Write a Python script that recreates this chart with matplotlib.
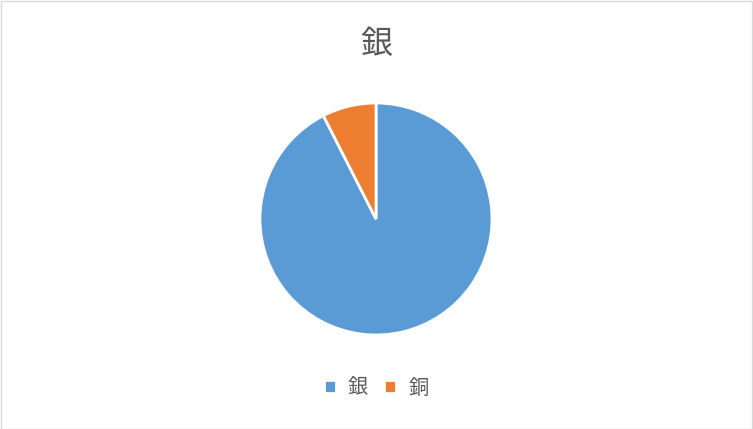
import matplotlib.pyplot as plt
from matplotlib.patches import Rectangle

plt.rcParams['font.family'] = ['Noto Sans CJK JP', 'DejaVu Sans']

labels = ["銀", "銅"]
values = [92.5, 7.5]
colors = ["#5B9BD5", "#ED7D31"]
title = "銀"

fig = plt.figure(figsize=(7.53, 4.29), dpi=100)
fig.patches.append(Rectangle((0.001, 0.001), 0.998, 0.997, transform=fig.transFigure,
                             fill=False, edgecolor="#D9D9D9", linewidth=1))

# pie centred at (376, 219) px, radius 116 px
ax = fig.add_axes([260 / 753, 94 / 429, 232 / 753, 232 / 429])
wedges, _ = ax.pie(values, colors=colors, startangle=90, counterclock=False,
                   wedgeprops=dict(edgecolor="white", linewidth=2))
ax.set_xlim(-1, 1)
ax.set_ylim(-1, 1)
ax.set_aspect("equal")

fig.text(376 / 753, 1 - 44 / 429, title, ha="center", va="center",
         fontsize=23, color="#595959")

fig.legend(wedges, labels, loc="center", bbox_to_anchor=(376 / 753, 1 - 388 / 429),
           ncol=2, frameon=False, fontsize=14.5, labelcolor="#595959",
           handlelength=0.6, handleheight=0.6, handletextpad=0.6, columnspacing=0.8)

fig.savefig("out.png", dpi=100)
